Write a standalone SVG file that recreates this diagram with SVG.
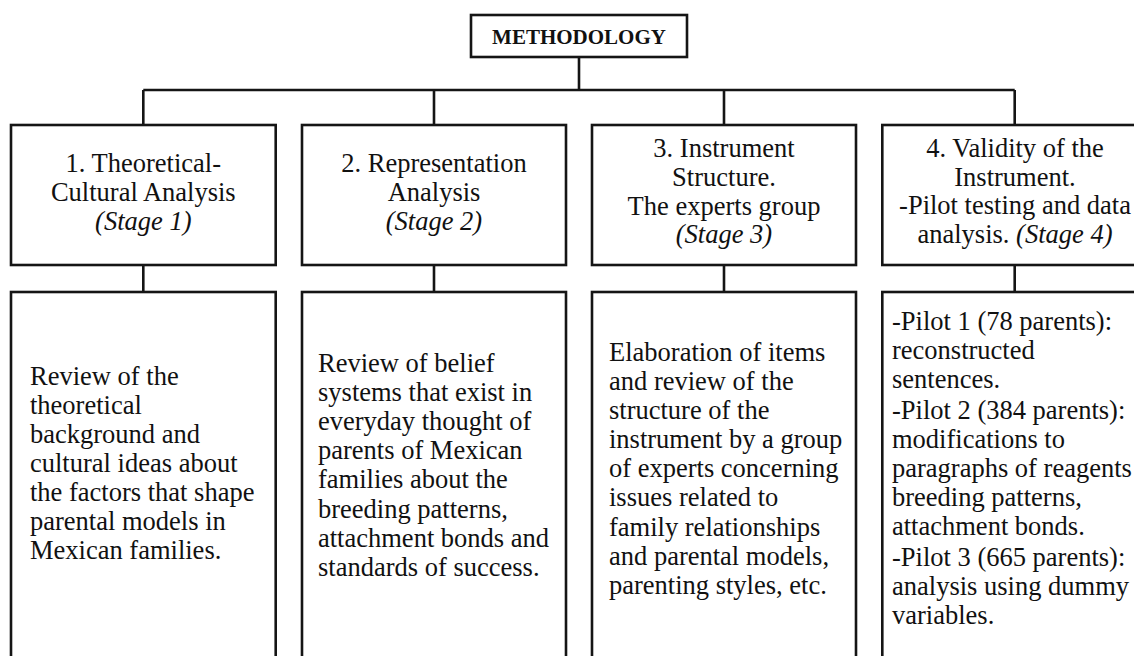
<svg xmlns="http://www.w3.org/2000/svg" width="1134" height="656" viewBox="0 0 1134 656">
<style>
.box{fill:#fff;stroke:#151515;stroke-width:2.6}
.ln{fill:none;stroke:#151515;stroke-width:2.6}
.t{font-family:"Liberation Serif","Times New Roman",serif;font-size:26.5px;fill:#111}
.c{text-anchor:middle}
.i{font-style:italic}
.b{font-family:"Liberation Serif","Times New Roman",serif;font-size:21px;font-weight:bold;fill:#111;text-anchor:middle}
</style>
<rect width="1134" height="656" fill="#fff"/>
<g id="connectors">
<path class="ln" d="M579 57V90M143.3 90H1014.7M143.3 90V125M434 90V125M724 90V125M1014.7 90V125"/>
<path class="ln" d="M143.3 265V292M434 265V292M724 265V292M1014.7 265V292"/>
</g>
<g id="methodology">
<rect class="box" x="471" y="15" width="216" height="42"/>
<text class="b" x="579" y="44">METHODOLOGY</text>
</g>
<g id="stage1">
<rect class="box" x="11" y="125" width="264.7" height="140"/>
<text class="t c"><tspan x="143.3" y="172">1. Theoretical-</tspan><tspan x="143.3" y="201">Cultural Analysis</tspan><tspan x="143.3" y="230" class="i">(Stage 1)</tspan></text>
</g>
<g id="stage2">
<rect class="box" x="302" y="125" width="264" height="140"/>
<text class="t c"><tspan x="434" y="172">2. Representation</tspan><tspan x="434" y="201">Analysis</tspan><tspan x="434" y="230" class="i">(Stage 2)</tspan></text>
</g>
<g id="stage3">
<rect class="box" x="592" y="125" width="264" height="140"/>
<text class="t c"><tspan x="724" y="157">3. Instrument</tspan><tspan x="724" y="186">Structure.</tspan><tspan x="724" y="215">The experts group</tspan><tspan x="724" y="243" class="i">(Stage 3)</tspan></text>
</g>
<g id="stage4">
<rect class="box" x="882.3" y="125" width="265" height="140"/>
<text class="t c"><tspan x="1015" y="157">4. Validity of the</tspan><tspan x="1015" y="186">Instrument.</tspan><tspan x="1015" y="214">-Pilot testing and data</tspan><tspan x="1015" y="243">analysis. <tspan class="i">(Stage 4)</tspan></tspan></text>
</g>
<g id="detail1">
<rect class="box" x="11" y="292" width="264.7" height="380"/>
<text class="t"><tspan x="30" y="385">Review of the</tspan><tspan x="30" y="414">theoretical</tspan><tspan x="30" y="443">background and</tspan><tspan x="30" y="472">cultural ideas about</tspan><tspan x="30" y="501">the factors that shape</tspan><tspan x="30" y="530">parental models in</tspan><tspan x="30" y="559">Mexican families.</tspan></text>
</g>
<g id="detail2">
<rect class="box" x="302" y="292" width="264" height="380"/>
<text class="t"><tspan x="318" y="372">Review of belief</tspan><tspan x="318" y="401">systems that exist in</tspan><tspan x="318" y="430">everyday thought of</tspan><tspan x="318" y="459">parents of Mexican</tspan><tspan x="318" y="488">families about the</tspan><tspan x="318" y="518">breeding patterns,</tspan><tspan x="318" y="547">attachment bonds and</tspan><tspan x="318" y="576">standards of success.</tspan></text>
</g>
<g id="detail3">
<rect class="box" x="592" y="292" width="264" height="380"/>
<text class="t"><tspan x="609" y="361">Elaboration of items</tspan><tspan x="609" y="390">and review of the</tspan><tspan x="609" y="419">structure of the</tspan><tspan x="609" y="448">instrument by a group</tspan><tspan x="609" y="477">of experts concerning</tspan><tspan x="609" y="506">issues related to</tspan><tspan x="609" y="536">family relationships</tspan><tspan x="609" y="565">and parental models,</tspan><tspan x="609" y="594">parenting styles, etc.</tspan></text>
</g>
<g id="detail4">
<rect class="box" x="882.3" y="292" width="265" height="380"/>
<text class="t"><tspan x="892" y="330">-Pilot 1 (78 parents):</tspan><tspan x="892" y="359">reconstructed</tspan><tspan x="892" y="388">sentences.</tspan><tspan x="892" y="419">-Pilot 2 (384 parents):</tspan><tspan x="892" y="448">modifications to</tspan><tspan x="892" y="477">paragraphs of reagents</tspan><tspan x="892" y="506">breeding patterns,</tspan><tspan x="892" y="535">attachment bonds.</tspan><tspan x="892" y="566">-Pilot 3 (665 parents):</tspan><tspan x="892" y="595">analysis using dummy</tspan><tspan x="892" y="624">variables.</tspan></text>
</g>
</svg>
